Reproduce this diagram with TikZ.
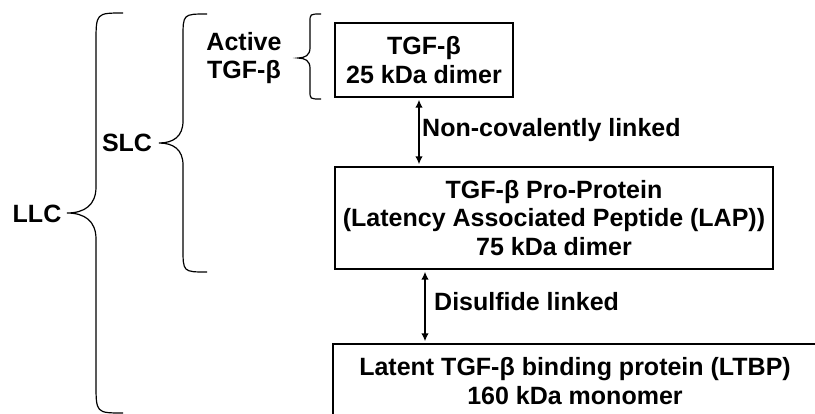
\documentclass[tikz,border=0pt]{standalone}
\usepackage{fontspec}
\setmainfont{Liberation Sans}
\usetikzlibrary{arrows.meta}
\newcommand{\mybrace}[8]{% xend, xspine, xtip, top, mid, bottom, r end, r tip
  \draw[bracestyle] (#1,#4) .. controls (#2,#4) .. (#2,#4+#7) -- (#2,#5-#8)
    .. controls (#2,#5-0.3*#8) and (#2-0.4*#2+0.4*#3,#5) .. (#3,#5)
    .. controls (#2-0.4*#2+0.4*#3,#5) and (#2,#5+0.3*#8) .. (#2,#5+#8)
    -- (#2,#6-#7) .. controls (#2,#6) .. (#1,#6);}
\begin{document}
\begin{tikzpicture}[x=1pt,y=-1pt,
  txt/.style={font=\bfseries\fontsize{25}{28.5}\selectfont, align=center, inner sep=0pt},
  boxstyle/.style={txt, draw, line width=1.3pt},
  bracestyle/.style={line width=1.2pt},
  dbl/.style={{Latex[length=8pt,width=7.5pt]}-{Latex[length=8pt,width=7.5pt]}, line width=1.6pt, shorten >=2pt, shorten <=2pt}]
\useasboundingbox (0,0) rectangle (815,413);
\clip (0,0) rectangle (815,413);
% boxes
\node[boxstyle, minimum width=178pt, minimum height=74pt] (b1) at (424,60) {TGF-β\\25 kDa dimer};
\node[boxstyle, minimum width=438pt, minimum height=102pt] (b2) at (554,218) {TGF-β Pro-Protein\\(Latency Associated Peptide (LAP))\\75 kDa dimer};
\node[boxstyle, minimum width=484pt, minimum height=74pt] (b3) at (575,381) {Latent TGF-β binding protein (LTBP)\\160 kDa monomer};
% connectors
\coordinate (a1) at (419,0);
\coordinate (a2) at (425,0);
\draw[dbl] (a1 |- b1.south) -- (a1 |- b2.north);
\draw[dbl] (a2 |- b2.south) -- (a2 |- b3.north);
\node[txt, anchor=west] (l1) at (422,130) {Non-covalently linked};
\node[txt, anchor=west] (l2) at (434,302) {Disulfide linked};
% brace labels
\node[txt] (act) at (244,58) {Active\\TGF-β};
\node[txt] (slc) at (127,143) {SLC};
\node[txt] (llc) at (37,214) {LLC};
% braces
\mybrace{321}{310}{298}{14}{58}{99}{8}{10}
\mybrace{207}{183}{159}{14}{143}{272}{24}{22}
\mybrace{123}{96}{67}{13}{213}{413}{30}{26}
\end{tikzpicture}
\end{document}
